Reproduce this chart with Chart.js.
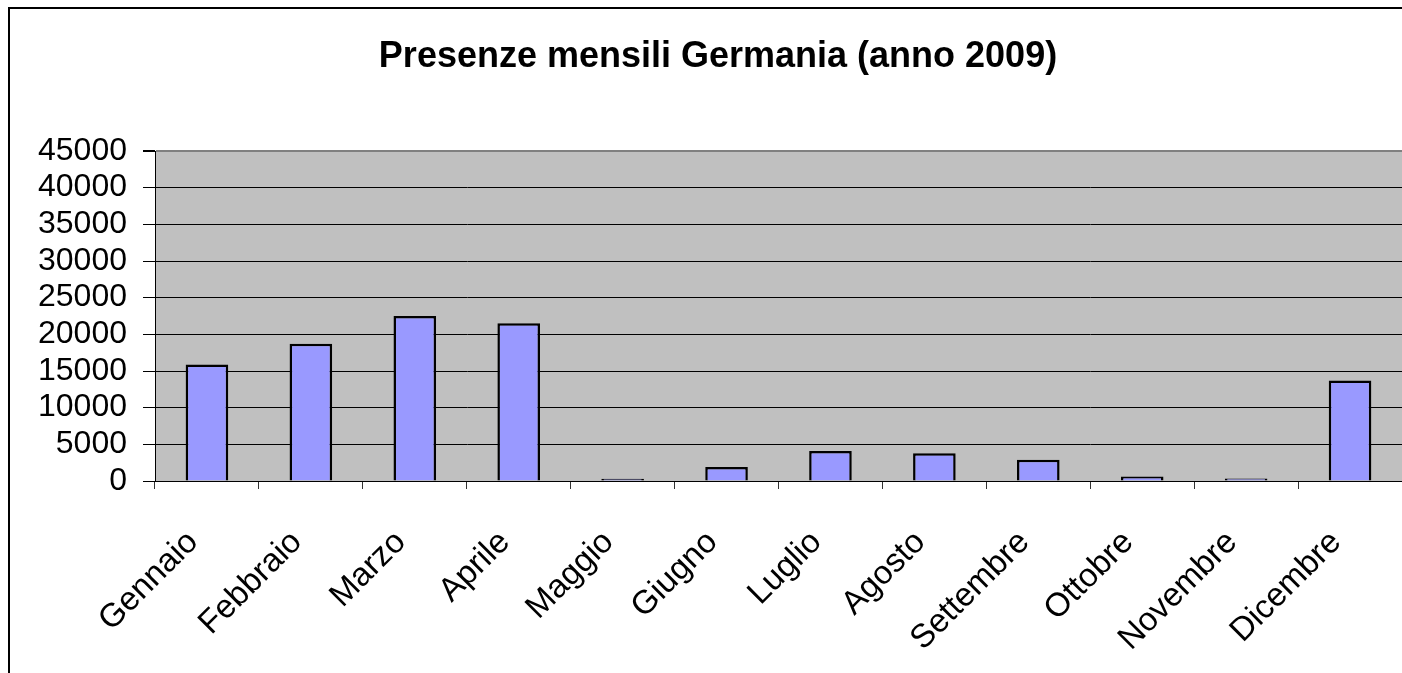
<!DOCTYPE html>
<html>
<head>
<meta charset="utf-8">
<script src="https://cdn.jsdelivr.net/npm/chart.js@4/dist/chart.umd.min.js"></script>
<style>
  html, body { margin: 0; padding: 0; background: #fff; }
  canvas { display: block; }
</style>
</head>
<body>
<canvas id="chart" width="1402" height="673"></canvas>
<script>
// Data
const titleText = 'Presenze mensili Germania (anno 2009)';
const months = ['Gennaio', 'Febbraio', 'Marzo', 'Aprile', 'Maggio', 'Giugno',
                'Luglio', 'Agosto', 'Settembre', 'Ottobre', 'Novembre', 'Dicembre'];
const presenze = [15900, 18700, 22500, 21500, 300, 1900, 4100, 3800, 2900, 600, 350, 13700];
const yMin = 0;
const yMax = 45000;
const yStep = 5000;

const FONT = "'Liberation Sans', Arial, sans-serif";

// white page, outer frame (left and top edges only), grey plot area, title
const backdrop = {
    id: 'backdrop',
    beforeDraw(chart) {
        const { ctx, chartArea: a, width, height } = chart;
        ctx.save();
        ctx.fillStyle = '#fff';
        ctx.fillRect(0, 0, width, height);

        ctx.fillStyle = '#000';
        ctx.fillRect(8, 7, 2, height - 7);
        ctx.fillRect(8, 7, width - 8, 2);

        ctx.fillStyle = '#c0c0c0';
        ctx.fillRect(a.left, a.top, a.right - a.left, a.bottom - a.top);

        ctx.fillStyle = '#000';
        ctx.font = 'bold 36px ' + FONT;
        ctx.textAlign = 'center';
        ctx.textBaseline = 'alphabetic';
        ctx.fillText(titleText, 718, 67);
        ctx.restore();
    }
};

const chart = new Chart(document.getElementById('chart'), {
    type: 'bar',
    data: {
        labels: months,
        datasets: [{
            label: 'Presenze',
            data: presenze,
            backgroundColor: '#9999ff',
            borderColor: '#000',
            borderWidth: 2.5,
            barPercentage: 0.41,
            categoryPercentage: 1
        }]
    },
    options: {
        responsive: false,
        animation: false,
        layout: { padding: { top: 151, left: 0, right: 0, bottom: 0 } },
        plugins: {
            legend: { display: false },
            title: { display: false },
            tooltip: { enabled: false }
        },
        scales: {
            x: {
                grid: {
                    drawOnChartArea: false,
                    drawTicks: true,
                    tickLength: 8,
                    color: '#333',
                    offset: true
                },
                border: { color: '#000', width: 1 },
                ticks: {
                    autoSkip: false,
                    minRotation: 45,
                    maxRotation: 45,
                    padding: 34,
                    labelOffset: -14,
                    color: '#000',
                    font: { family: FONT, size: 33 }
                },
                afterFit(scale) {
                    scale.height = 192;
                    scale.paddingLeft = 0;
                    scale.paddingRight = 0;
                }
            },
            y: {
                min: yMin,
                max: yMax,
                ticks: {
                    stepSize: yStep,
                    autoSkip: false,
                    padding: 16,
                    color: '#000',
                    font: { family: FONT, size: 32 },
                    callback: v => String(v)
                },
                grid: {
                    color: ctx => ctx.tick && ctx.tick.value === yMax ? '#808080' : '#000',
                    lineWidth: ctx => ctx.tick && ctx.tick.value === yMax ? 2 : 1,
                    tickColor: '#000',
                    tickLength: 12
                },
                border: { color: '#000', width: 1 },
                afterFit(scale) { scale.width = 155; }
            }
        }
    },
    plugins: [backdrop]
});
</script>
</body>
</html>
